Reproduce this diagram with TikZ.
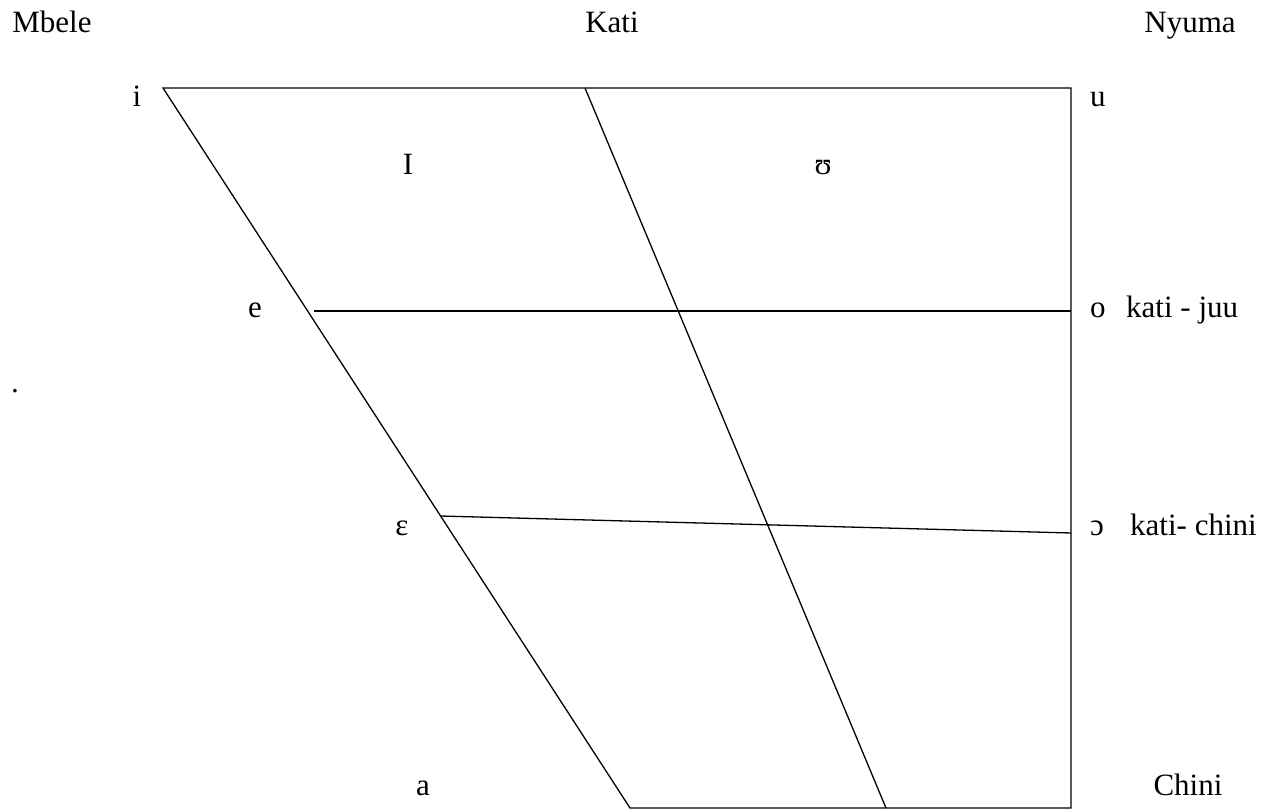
\documentclass[tikz,border=0pt]{standalone}
\usepackage{fontspec}
\setmainfont{Liberation Serif}
\usetikzlibrary{positioning}

\begin{document}
\begin{tikzpicture}[
    x=1pt, y=-1pt,
    lbl/.style={font=\fontsize{31}{37}\selectfont, anchor=base, inner sep=0pt},
    side/.style={lbl, anchor=base west},
    chart/.style={draw, line width=1.3pt, line join=miter}
]
\useasboundingbox (0,0) rectangle (1262,810);
% corners of the chart
\coordinate (i) at (163,88);
\coordinate (u) at (1071,88);
\coordinate (a) at (630,808);
\coordinate (b) at (1071,808);
\coordinate (mtop) at (585,88);
\coordinate (mbot) at (886,808);
\coordinate (eL) at (314,311);
\coordinate (eR) at (1071,311);
\coordinate (epsL) at (440,516);
\coordinate (epsR) at (1071,533);

\draw[chart] (i) -- (u) -- (b) -- (a) -- cycle;
\draw[chart] (mtop) -- (mbot);
\draw[chart] (eL) -- (eR);
\draw[chart] (epsL) -- (epsR);

% column heads
\node[lbl] (mbele) at (52,33) {Mbele};
\node[lbl] (kati) at (612,33) {Kati};
\node[lbl] (nyuma) at (1190,33) {Nyuma};

% vowels
\node[lbl] (vi) at (137,107) {i};
\node[side] (vu) at (1090,107) {u};
\node[lbl] (vI) at (408,175) {I};
\node[lbl] (vU) at (823,175) {ʊ};
\node[lbl] (ve) at (255,318) {e};
\node[side] (vo) at (1090,318) {o};
\node[side] (juu) at (1126,318) {kati - juu};
\node[lbl] (veps) at (402,535) {ε};
\node[side] (vO) at (1090,535) {ɔ};
\node[side] (chini) at (1130,535) {kati- chini};
\node[lbl] (va) at (423,795) {a};
\node[lbl] (low) at (1188,795) {Chini};
\node[lbl] (dot) at (15,392) {.};
\end{tikzpicture}
\end{document}
